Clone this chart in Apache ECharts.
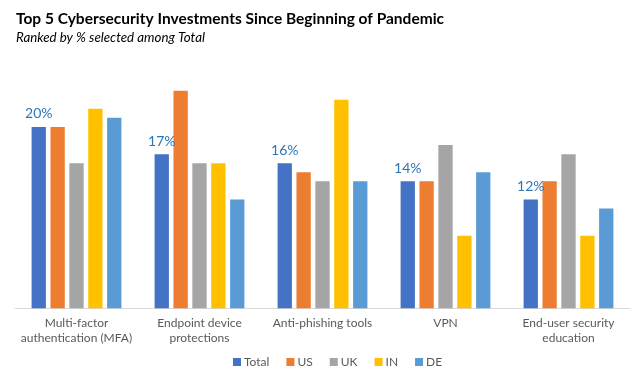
<!DOCTYPE html>
<html>
<head>
<meta charset="utf-8">
<script src="https://cdn.jsdelivr.net/npm/echarts@6/dist/echarts.min.js"></script>
<style>html,body{margin:0;padding:0;background:#fff}#c{width:640px;height:378px}</style>
</head>
<body>
<div id="c"></div>
<script>
var categories = ["Multi-factor\nauthentication (MFA)", "Endpoint device\nprotections", "Anti-phishing tools", "VPN", "End-user security\neducation"];
var seriesNames = ["Total", "US", "UK", "IN", "DE"];
var totalValues = [20, 17, 16, 14, 12];
var usValues = [20, 24, 15, 14, 14];
var ukValues = [16, 16, 14, 18, 17];
var inValues = [22, 16, 23, 8, 8];
var deValues = [21, 12, 14, 15, 11];
var colors = ["#4472C4", "#ED7D31", "#A5A5A5", "#FFC000", "#5B9BD5"];

var allValues = [totalValues, usValues, ukValues, inValues, deValues];
var font = "Lato, 'Open Sans', sans-serif";
var chart = echarts.init(document.getElementById('c'), null, {renderer: 'canvas'});
chart.setOption({
  animation: false,
  color: colors,
  title: [{
    text: "Top 5 Cybersecurity Investments Since Beginning of Pandemic",
    left: 11, top: 6,
    textStyle: {fontFamily: font, fontSize: 15.5, fontWeight: 'bold', color: '#000'}
  }, {
    text: "Ranked by % selected among Total",
    left: 11, top: 26,
    textStyle: {fontFamily: font, fontSize: 13.3, fontStyle: 'italic', fontWeight: 'normal', color: '#000'}
  }],
  legend: {
    data: seriesNames,
    left: 228, top: 351,
    itemWidth: 8, itemHeight: 8, itemGap: 17,
    icon: 'rect',
    textStyle: {fontFamily: font, fontSize: 12, color: '#595959', padding: [0, 0, 0, -2]}
  },
  grid: {left: 15, right: 10, top: 81.6, bottom: 69.7, containLabel: false},
  xAxis: {
    type: 'category',
    data: categories,
    axisLine: {lineStyle: {color: '#D9D9D9', width: 1}},
    axisTick: {show: false},
    axisLabel: {fontFamily: font, fontSize: 12, color: '#595959', margin: 8, lineHeight: 14.5, interval: 0}
  },
  yAxis: {
    type: 'value', min: 0, max: 25,
    show: false,
    splitLine: {show: false}
  },
  series: seriesNames.map(function (name, i) {
    return {
      name: name,
      type: 'bar',
      data: allValues[i],
      barWidth: 14.3,
      barGap: '32%',
      label: i === 0 ? {
        show: true, position: 'top', distance: 6,
        formatter: '{c}%',
        fontFamily: font, fontSize: 14, color: '#2E75B6'
      } : {show: false}
    };
  })
});
</script>
</body>
</html>
